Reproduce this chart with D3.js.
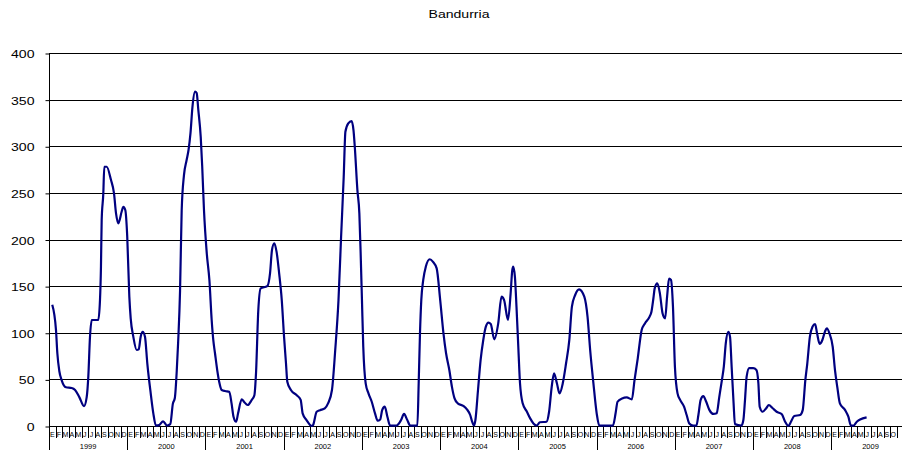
<!DOCTYPE html>
<html>
<head>
<meta charset="utf-8">
<script src="https://cdn.jsdelivr.net/npm/d3@7"></script>
<style>
  html, body { margin: 0; padding: 0; background: #fff; }
  svg { display: block; }
  text { font-family: "Liberation Sans", Arial, sans-serif; fill: #000; }
</style>
</head>
<body>
<svg id="chart" width="902" height="450"></svg>
<script>
// ---- data ----
const title = "Bandurria";
const years = ["1999","2000","2001","2002","2003","2004","2005","2006","2007","2008","2009"];
const monthLabels = ["E","F","M","A","M","J","J","A","S","O","N","D"];
const yTicks = [0, 50, 100, 150, 200, 250, 300, 350, 400];
// time in months since January 1999 (0 = Jan 1999)
const t = [0,0.57,0.78,1.08,1.45,2.1,2.98,3.5,4.15,4.87,5.28,5.53,5.79,6.05,7.06,7.32,7.47,7.58,7.83,7.98,8.35,9.0,9.47,9.78,10.13,10.65,10.9,11.2,11.5,11.82,12.03,12.43,12.95,13.26,13.56,13.87,14.22,14.58,15.1,15.5,15.9,16.4,17.0,17.6,18.1,18.5,18.8,19.1,19.3,19.6,19.85,20.2,20.6,20.9,21.2,21.5,21.9,22.15,22.4,22.77,23.0,23.27,23.7,24.1,24.45,24.7,24.96,25.3,25.6,25.99,26.5,27.15,27.5,27.8,28.2,28.5,29.06,29.4,29.98,30.6,31.0,31.25,31.6,31.97,32.98,33.4,33.7,34.05,34.4,34.8,35.2,35.55,35.85,36.05,36.6,37.5,38.1,38.4,39.0,39.8,40.0,40.55,41.06,41.8,42.3,42.9,43.4,43.9,44.3,44.7,44.96,45.4,45.9,46.2,46.4,46.8,47.1,47.3,47.5,47.7,48.07,48.5,49.0,49.5,49.9,50.3,50.6,51.0,51.4,51.8,52.8,53.5,53.95,54.45,54.9,56.0,56.2,56.4,56.6,56.9,57.3,57.9,58.4,58.96,59.5,60.0,60.4,60.9,61.3,61.7,62.2,63.1,63.6,64.1,64.4,64.7,64.9,65.3,65.7,66.1,66.5,66.9,67.25,67.8,68.4,68.9,69.3,69.9,70.3,70.55,70.7,70.96,71.2,71.5,71.74,72.15,72.8,73.3,73.8,74.3,74.8,75.8,76.2,76.6,76.96,77.4,77.8,78.3,78.8,79.3,79.7,80.2,80.8,81.6,82.1,82.5,83.0,83.5,83.9,86.0,86.4,86.7,87.4,88.1,88.9,89.3,89.8,90.4,90.9,91.6,91.9,92.2,92.4,92.8,93.2,93.6,94.0,94.3,94.6,94.9,95.2,95.5,95.9,96.3,96.9,97.3,97.7,98.3,98.8,99.1,99.45,99.85,100.3,100.8,101.4,101.9,102.3,102.7,103.0,103.3,103.7,103.95,104.2,104.5,104.7,105.7,106.0,106.25,106.5,106.9,107.5,108.0,108.3,108.5,108.95,109.5,109.9,110.5,111.1,111.9,112.4,112.9,113.3,113.8,114.7,115.1,115.5,115.8,116.2,116.6,117.0,117.3,117.7,118.1,118.5,118.8,119.2,119.7,120.05,120.4,120.8,121.6,122.1,122.5,122.9,123.4,123.9,124.9];
const v = [130,103,78,59,49,41.5,40.7,38.6,31,21.4,31,53,96,113.7,113.7,135,171,221,249.5,278,278,264,249.5,228,217.4,230,235,231.6,203,138.7,115.5,95.8,81.5,82.2,95.8,101,95.8,67,35,13.6,0.5,1,5,0.5,2,24,30,60,88.7,145,231,269,285,296,314,342,358.5,357,339,310,278,231.6,185,156.6,113.7,92,78,60,47.5,38.6,37.5,36.8,24.3,10,4.6,13.6,28.6,26,22.5,28,33,56.5,124,147.6,150,163.7,188.7,196,187,163.7,135,95.8,67,47.5,38.6,33,28,13.6,6.4,0,1,15.3,17,19,24.3,38.6,81.5,135,203,267,315.6,324.6,327,317.4,299.5,253,228,185,135,85,45.8,35,26,13.6,5.7,7,17,20.7,10,0.5,0.5,6.4,12.9,6.4,0.5,0.5,45.8,99.4,135,156.6,171,178.8,176,169,135,99.4,78,60,42,29.6,24.3,21.4,17.9,11.8,4.6,0.5,6.4,38.6,70.8,92,106.5,110.8,109.4,93,110,138.7,135,113.7,142,167,171,160,128,81.5,45.8,24.3,15.3,8.2,2.8,0.5,4,4.6,15.3,42,56.5,45.8,35,45.8,67,92,128,140.5,146.6,138.7,117,81.5,45.8,13.6,0.5,0.5,13.6,26,29.6,30.7,28.6,49,72.6,103,110,117,122.6,137,147.6,153,142,121,115.5,138.7,158,156.6,128,63.6,35,28,20.7,11.8,2.8,0.5,0.5,11.8,28,32,26,17,12.9,13.6,31,49,63.6,88.7,101,95.8,63.6,24.3,2,0.5,6.4,28,53,62,62,60,45.8,20.7,15.3,19,22.5,19,15.3,12.5,4.6,0,4.6,10.7,11.8,17,49,67,95.8,106.5,109.4,99.4,88,92,101,104.8,99.4,85,60,42,24.3,17,10,0.5,0.5,4.6,7,9.3];

// ---- layout ----
const W = 902, H = 450;
const plotLeft = 49, plotTop = 53, plotBottom = 426;
const nMonths = years.length * 12;
const monthW = 6.52;
const plotRight = plotLeft + nMonths * monthW;

const svg = d3.select("#chart");
const x = d3.scaleLinear().domain([-0.5, nMonths - 0.5]).range([plotLeft, plotRight]);
const y = d3.scaleLinear().domain([0, 400]).range([plotBottom, plotTop]);

// title
svg.append("text")
  .attr("transform", `translate(459,18) scale(1.28,1)`)
  .attr("text-anchor", "middle")
  .style("font-size", "11px")
  .text(title);

// gridlines
svg.append("g").selectAll("line")
  .data(yTicks.filter(d => d > 0))
  .join("line")
  .attr("x1", plotLeft).attr("x2", W)
  .attr("y1", d => Math.round(y(d)) + 0.5).attr("y2", d => Math.round(y(d)) + 0.5)
  .attr("stroke", "#000").attr("stroke-width", 1);

// y axis
const yAxis = d3.axisLeft(y).tickValues(yTicks).tickSize(4).tickFormat(d3.format("d"));
const gy = svg.append("g").attr("transform", `translate(${plotLeft + 0.5},0.5)`).call(yAxis);
gy.select(".domain").attr("stroke", "#000").attr("d", `M0,${plotTop}V${plotBottom}`);
gy.selectAll(".tick line").attr("stroke", "#000");
gy.selectAll(".tick text")
  .attr("x", null).attr("dy", null)
  .attr("transform", "translate(-15,4) scale(1.28,1)")
  .attr("text-anchor", "end")
  .style("font-size", "11px")
  .style("font-family", "'Liberation Sans', Arial, sans-serif");

// x axis line
svg.append("line")
  .attr("x1", plotLeft).attr("x2", W)
  .attr("y1", plotBottom + 0.5).attr("y2", plotBottom + 0.5)
  .attr("stroke", "#000");

// month tick lines (boundaries)
const boundaries = d3.range(0, nMonths + 1);
svg.append("g").selectAll("line")
  .data(boundaries)
  .join("line")
  .attr("x1", d => Math.round(x(d - 0.5)) + 0.5)
  .attr("x2", d => Math.round(x(d - 0.5)) + 0.5)
  .attr("y1", plotBottom)
  .attr("y2", d => d % 12 === 0 ? H : plotBottom + 12)
  .attr("stroke", "#000").attr("stroke-width", 1);

// month labels (only those that fall inside the visible frame)
svg.append("g").selectAll("text")
  .data(d3.range(0, nMonths).filter(d => x(d) + 3 <= W))
  .join("text")
  .attr("x", d => x(d))
  .attr("y", plotBottom + 11)
  .attr("text-anchor", "middle")
  .style("font-size", "7px")
  .text(d => monthLabels[d % 12]);

// year labels
svg.append("g").selectAll("text")
  .data(years)
  .join("text")
  .attr("x", (d, i) => x(i * 12 + 5.5))
  .attr("y", H - 1)
  .attr("text-anchor", "middle")
  .style("font-size", "7.5px")
  .text(d => d);

// series line
const pts = t.map((d, i) => [d, v[i]]);
svg.append("path")
  .datum(pts)
  .attr("fill", "none")
  .attr("stroke", "#000080")
  .attr("stroke-width", 2.2)
  .attr("stroke-linejoin", "round")
  .attr("d", d3.line().x(d => x(d[0])).y(d => y(d[1])).curve(d3.curveMonotoneX));
</script>
</body>
</html>
